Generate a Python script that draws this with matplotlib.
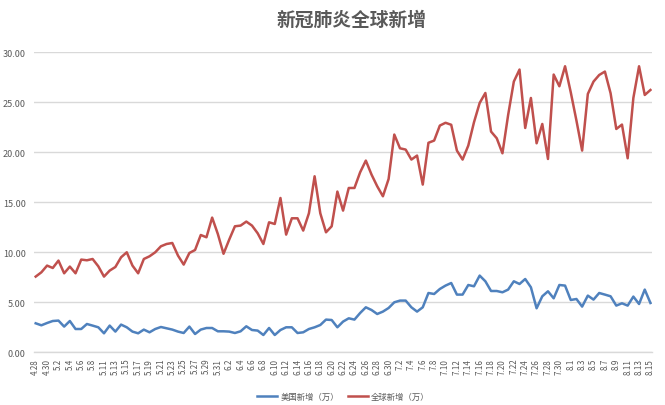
#!/usr/bin/env python3

import matplotlib
matplotlib.use("Agg")
import matplotlib.pyplot as plt

plt.rcParams["font.family"] = ["Noto Sans CJK SC", "DejaVu Sans"]

dates = [
    "4.28", "4.29", "4.30",
    "5.1", "5.2", "5.3", "5.4", "5.5", "5.6", "5.7", "5.8", "5.9",
    "5.11", "5.12", "5.13", "5.14", "5.15", "5.16", "5.17", "5.18", "5.19", "5.20",
    "5.21", "5.22", "5.23", "5.24", "5.25", "5.26", "5.27", "5.28", "5.29", "5.30", "5.31",
    "6.1", "6.2", "6.3", "6.4", "6.5", "6.6", "6.7", "6.8", "6.9", "6.10",
    "6.11", "6.12", "6.13", "6.14", "6.15", "6.16", "6.17", "6.18", "6.19", "6.20",
    "6.21", "6.22", "6.23", "6.24", "6.25", "6.26", "6.27", "6.28", "6.29", "6.30",
    "7.1", "7.2", "7.3", "7.4", "7.5", "7.6", "7.7", "7.8", "7.9", "7.10",
    "7.11", "7.12", "7.13", "7.14", "7.15", "7.16", "7.17", "7.18", "7.19", "7.20",
    "7.21", "7.22", "7.23", "7.24", "7.25", "7.26", "7.27", "7.28", "7.29", "7.30", "7.31",
    "8.1", "8.2", "8.3", "8.4", "8.5", "8.6", "8.7", "8.8", "8.9", "8.10",
    "8.11", "8.12", "8.13", "8.14", "8.15",
]

# 美国新增（万）
usa = [
    2.90, 2.70, 2.93, 3.13, 3.17, 2.57, 3.13, 2.33, 2.33, 2.83,
    2.67, 2.50, 1.90, 2.67, 2.07, 2.77, 2.50, 2.07, 1.90, 2.27,
    2.00, 2.33, 2.53, 2.40, 2.27, 2.07, 1.93, 2.57, 1.83, 2.27,
    2.43, 2.43, 2.10, 2.10, 2.07, 1.93, 2.10, 2.60, 2.23, 2.17,
    1.73, 2.43, 1.73, 2.23, 2.50, 2.50, 1.93, 2.00, 2.33, 2.50,
    2.73, 3.27, 3.23, 2.50, 3.07, 3.40, 3.27, 3.93, 4.50, 4.23,
    3.83, 4.07, 4.43, 5.00, 5.17, 5.17, 4.50, 4.07, 4.50, 5.93,
    5.83, 6.33, 6.67, 6.93, 5.77, 5.77, 6.73, 6.60, 7.67, 7.10,
    6.13, 6.13, 6.00, 6.27, 7.10, 6.83, 7.33, 6.50, 4.40, 5.60,
    6.10, 5.40, 6.73, 6.67, 5.23, 5.33, 4.57, 5.67, 5.27, 5.93,
    5.77, 5.60, 4.67, 4.90, 4.67, 5.57, 4.83, 6.27, 4.93,
]

# 全球新增（万）
world = [
    7.57, 8.00, 8.67, 8.43, 9.17, 7.90, 8.57, 7.90, 9.27, 9.20,
    9.33, 8.60, 7.57, 8.17, 8.53, 9.50, 10.00, 8.67, 7.90, 9.33,
    9.60, 10.00, 10.60, 10.83, 10.93, 9.67, 8.77, 9.93, 10.23, 11.73,
    11.50, 13.47, 11.83, 9.85, 11.27, 12.60, 12.67, 13.07, 12.67, 11.90,
    10.83, 13.00, 12.83, 15.43, 11.77, 13.40, 13.40, 12.17, 13.90, 17.60,
    13.90, 12.00, 12.60, 16.07, 14.17, 16.43, 16.43, 18.00, 19.17, 17.77,
    16.60, 15.60, 17.33, 21.77, 20.40, 20.27, 19.27, 19.67, 16.77, 20.95,
    21.17, 22.67, 22.95, 22.75, 20.17, 19.27, 20.67, 23.00, 24.93, 25.93,
    22.07, 21.40, 19.90, 23.73, 27.07, 28.27, 22.43, 25.43, 20.90, 22.83,
    19.33, 27.77, 26.60, 28.60, 26.00, 23.17, 20.17, 25.83, 27.07, 27.73,
    28.07, 25.90, 22.33, 22.77, 19.40, 25.43, 28.60, 25.73, 26.23,
]

yticks = [0, 5, 10, 15, 20, 25, 30]

fig = plt.figure(figsize=(6.65, 4.06), dpi=100)
ax = fig.add_axes([0.0511, 0.1298, 0.930, 0.739])

x = list(range(len(dates)))
ax.plot(x, usa, color="#4F81BD", linewidth=1.8, label="美国新增（万）")
ax.plot(x, world, color="#C0504D", linewidth=1.8, label="全球新增（万）")

ax.set_xlim(-0.3, len(dates) - 0.65)
ax.set_ylim(0, 30)
ax.set_yticks(yticks)
ax.set_yticklabels([f"{v:.2f}" for v in yticks])
ax.set_xticks(x[::2])
ax.set_xticklabels(dates[::2], rotation=90)
ax.tick_params(axis="both", length=0, colors="#595959")
ax.tick_params(axis="y", labelsize=6.5, pad=6)
ax.tick_params(axis="x", labelsize=5.8, pad=4)

ax.grid(axis="y", color="#d9d9d9", linewidth=1.0)
ax.set_axisbelow(True)
for side in ("left", "right", "top"):
    ax.spines[side].set_visible(False)
ax.spines["bottom"].set_color("#d9d9d9")
ax.spines["bottom"].set_linewidth(1.0)

fig.text(0.528, 1 - 20 / 406, "新冠肺炎全球新增", ha="center", va="center",
         fontsize=13.5, color="#595959", fontweight="bold")

fig.legend(loc="center", bbox_to_anchor=(0.5165, 0.022), ncol=2, frameon=False,
           fontsize=6, handlelength=2.4, columnspacing=1.0, handletextpad=0.4,
           labelcolor="#595959")

fig.savefig("out.png", dpi=100)
print("out.png")
